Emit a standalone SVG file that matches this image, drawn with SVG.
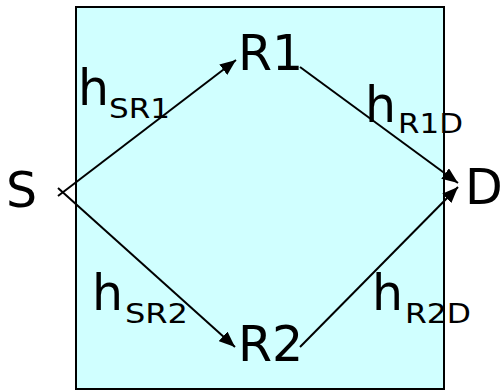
<svg xmlns="http://www.w3.org/2000/svg" width="502" height="391" viewBox="0 0 502 391">
<defs>
<style>
.big{font-family:"DejaVu Sans","Liberation Sans",sans-serif;font-size:49px;fill:#000}
.sub{font-family:"DejaVu Sans","Liberation Sans",sans-serif;font-size:27px;fill:#000}
.edge{stroke:#000;stroke-width:2;fill:none;marker-end:url(#arr)}
</style>
<marker id="arr" viewBox="0 0 16 13" markerWidth="16" markerHeight="13" refX="16" refY="6.5" orient="auto" markerUnits="userSpaceOnUse">
<path d="M0,0 L16,6.5 L0,13 z" fill="#000"/>
</marker>
</defs>
<rect x="76" y="7" width="368" height="382" fill="#D0FFFF" stroke="#000" stroke-width="2"/>
<g id="connectors">
<line class="edge" x1="58" y1="196" x2="236" y2="60"/>
<line class="edge" x1="58" y1="188" x2="235" y2="347"/>
<line class="edge" x1="300" y1="67" x2="458" y2="183"/>
<line class="edge" x1="300" y1="347" x2="458" y2="187"/>
</g>
<g id="S"><text class="big" x="6" y="207">S</text></g>
<g id="R1"><text class="big" x="238" y="70">R1</text></g>
<g id="R2"><text class="big" x="238" y="361">R2</text></g>
<g id="D"><text class="big" x="465" y="204">D</text></g>
<g id="labels">
<text class="big" x="78" y="105">h</text><text class="sub" x="109" y="118" textLength="61" lengthAdjust="spacingAndGlyphs">SR1</text>
<text class="big" x="365" y="122">h</text><text class="sub" x="398" y="133" textLength="65" lengthAdjust="spacingAndGlyphs">R1D</text>
<text class="big" x="92" y="310">h</text><text class="sub" x="125" y="323" textLength="63" lengthAdjust="spacingAndGlyphs">SR2</text>
<text class="big" x="372" y="310">h</text><text class="sub" x="405" y="323" textLength="66" lengthAdjust="spacingAndGlyphs">R2D</text>
</g>
</svg>
